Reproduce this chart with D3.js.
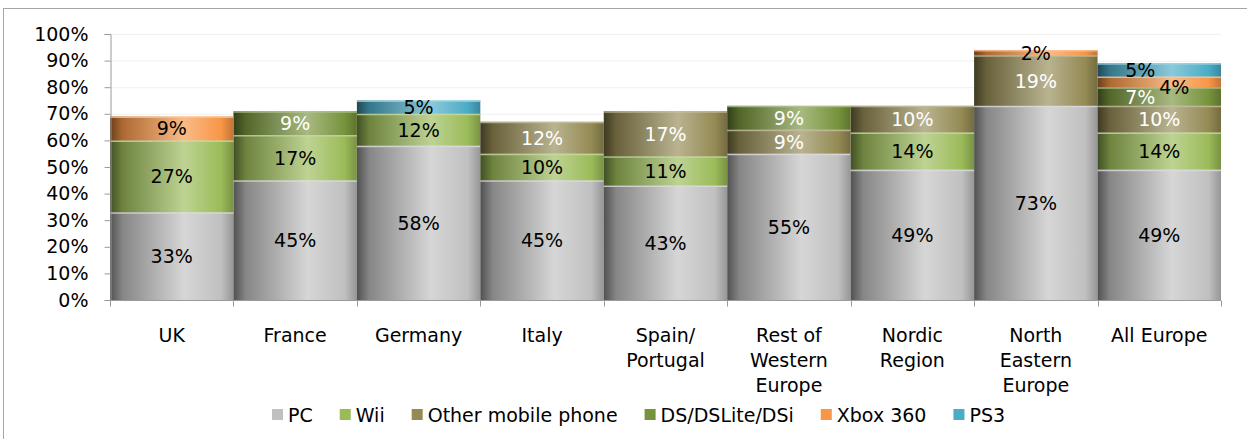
<!DOCTYPE html>
<html>
<head>
<meta charset="utf-8">
<script src="https://cdn.jsdelivr.net/npm/d3@7"></script>
<style>
  body { margin: 0; background: #fff; }
  svg text { font-family: "DejaVu Sans", Verdana, sans-serif; }
</style>
</head>
<body>
<script>
// categories (multi-line labels) and platform shares in percent
const categories = [
  ["UK"], ["France"], ["Germany"], ["Italy"], ["Spain/", "Portugal"],
  ["Rest of", "Western", "Europe"], ["Nordic", "Region"],
  ["North", "Eastern", "Europe"], ["All Europe"]
];
const pc          = [33, 45, 58, 45, 43, 55, 49, 73, 49];
const wii         = [27, 17, 12, 10, 11,  0, 14,  0, 14];
const otherMobile = [ 0,  0,  0, 12, 17,  9, 10, 19, 10];
const dsLite      = [ 0,  9,  0,  0,  0,  9,  0,  0,  7];
const xbox360     = [ 9,  0,  0,  0,  0,  0,  0,  2,  4];
const ps3         = [ 0,  0,  5,  0,  0,  0,  0,  0,  5];
const yTicks = [0, 10, 20, 30, 40, 50, 60, 70, 80, 90, 100];

const series = [
  {name: "PC", values: pc, color: "#c0c0c0", text: "#000"},
  {name: "Wii", values: wii, color: "#9bbb59", text: "#000"},
  {name: "Other mobile phone", values: otherMobile, color: "#948a54", text: "#fff"},
  {name: "DS/DSLite/DSi", values: dsLite, color: "#77933c", text: "#fff"},
  {name: "Xbox 360", values: xbox360, color: "#f79646", text: "#000"},
  {name: "PS3", values: ps3, color: "#4bacc6", text: "#000"}
];

// crowded labels in the last column get pushed aside, like the original
const labelNudge = {"All Europe|PS3": [-19, 0], "All Europe|Xbox 360": [15, 5], "All Europe|DS/DSLite/DSi": [-19, 0]};

const W = 1247, H = 439;
const margin = {top: 34, left: 110, right: 26, bottom: 139};
const fontSize = "19px";

const svg = d3.select("body").append("svg")
  .attr("width", W).attr("height", H);

// chart frame (runs off the right / bottom like the crop)
svg.append("rect")
  .attr("x", 3.5).attr("y", 8.5).attr("width", W + 10).attr("height", H + 10)
  .attr("fill", "none").attr("stroke", "#a6a6a6");

const x = d3.scaleBand()
  .domain(categories.map((c) => c.join(" ")))
  .range([margin.left, W - margin.right])
  .paddingInner(0).paddingOuter(0);

const y = d3.scaleLinear().domain([0, 100]).range([H - margin.bottom, margin.top]);

// gradients - cylinder look
const defs = svg.append("defs");
const mix = (a, b, t) => d3.interpolateRgb(a, b)(t);
series.forEach((s, i) => {
  const grad = defs.append("linearGradient")
    .attr("id", "grad" + i).attr("x1", 0).attr("x2", 1).attr("y1", 0).attr("y2", 0);
  const stops = [
    [0, mix(s.color, "#000", 0.58)],
    [0.1, mix(s.color, "#000", 0.3)],
    [0.6, mix(s.color, "#fff", 0.35)],
    [0.9, s.color],
    [1, mix(s.color, "#000", 0.22)]
  ];
  grad.selectAll("stop").data(stops).join("stop")
    .attr("offset", (d) => d[0]).attr("stop-color", (d) => d[1]);
});

// gridlines
svg.append("g").selectAll("line").data(yTicks.slice(1)).join("line")
  .attr("x1", margin.left).attr("x2", W - margin.right)
  .attr("y1", (d) => y(d) + 0.5).attr("y2", (d) => y(d) + 0.5)
  .attr("stroke", "#f0f0f0");

// stack
const rows = categories.map((c, i) => {
  const r = {cat: c.join(" ")};
  series.forEach((s) => { r[s.name] = s.values[i]; });
  return r;
});
const stacked = d3.stack().keys(series.map((s) => s.name))(rows);

const layers = svg.append("g").selectAll("g").data(stacked).join("g");

layers.selectAll("rect")
  .data((d) => d.filter((p) => p[1] > p[0]))
  .join("rect")
  .attr("x", (d) => x(d.data.cat))
  .attr("width", x.bandwidth())
  .attr("y", (d) => y(d[1]))
  .attr("height", (d) => y(d[0]) - y(d[1]))
  .attr("fill", function () { return "url(#grad" + d3.select(this.parentNode).datum().index + ")"; });

// light rim on top of each segment
layers.selectAll("line")
  .data((d) => d.filter((p) => p[1] > p[0]))
  .join("line")
  .attr("x1", (d) => x(d.data.cat)).attr("x2", (d) => x(d.data.cat) + x.bandwidth())
  .attr("y1", (d) => y(d[1]) + 0.75).attr("y2", (d) => y(d[1]) + 0.75)
  .attr("stroke", function () { return mix(series[d3.select(this.parentNode).datum().index].color, "#fff", 0.45); })
  .attr("stroke-width", 1.5).attr("opacity", 0.8);

// value labels
layers.each(function (layer) {
  const s = series[layer.index];
  d3.select(this).selectAll("text")
    .data(layer.filter((p) => p[1] > p[0]))
    .join("text")
    .attr("x", (d) => x(d.data.cat) + x.bandwidth() / 2 + (labelNudge[d.data.cat + "|" + s.name] || [0, 0])[0])
    .attr("y", (d) => (y(d[0]) + y(d[1])) / 2 + (labelNudge[d.data.cat + "|" + s.name] || [0, 0])[1])
    .attr("text-anchor", "middle")
    .attr("dominant-baseline", "central")
    .attr("font-size", fontSize)
    .attr("fill", s.text)
    .text((d) => (d[1] - d[0]) + "%");
});

// y axis
const yAxis = svg.append("g")
  .attr("transform", `translate(${margin.left + 0.5},0)`)
  .call(d3.axisLeft(y).tickValues(yTicks).tickFormat((d) => d + "%").tickSize(6).tickPadding(16));
yAxis.selectAll("text").attr("font-size", fontSize).attr("fill", "#000")
  .attr("font-family", "DejaVu Sans, Verdana, sans-serif");
yAxis.selectAll("line, path").attr("stroke", "#9a9a9a");

// x axis line + ticks at the category boundaries
const base = y(0) + 0.5;
svg.append("line")
  .attr("x1", margin.left).attr("x2", W - margin.right)
  .attr("y1", base).attr("y2", base).attr("stroke", "#9a9a9a");
svg.append("g").selectAll("line")
  .data(x.domain().concat(["end"]))
  .join("line")
  .attr("x1", (d) => Math.round(d === "end" ? x.range()[1] : x(d)) + 0.5)
  .attr("x2", (d) => Math.round(d === "end" ? x.range()[1] : x(d)) + 0.5)
  .attr("y1", base).attr("y2", base + 6).attr("stroke", "#9a9a9a");

// category labels
const catLabels = svg.append("g").selectAll("text").data(categories).join("text")
  .attr("x", (d) => x(d.join(" ")) + x.bandwidth() / 2)
  .attr("y", 342)
  .attr("text-anchor", "middle")
  .attr("font-size", fontSize)
  .attr("fill", "#000");
catLabels.selectAll("tspan").data((d) => d).join("tspan")
  .attr("x", function () { return d3.select(this.parentNode).attr("x"); })
  .attr("dy", (d, i) => i === 0 ? 0 : 25)
  .text((d) => d);

// legend
const legend = svg.append("g").attr("transform", "translate(272,415)");
let lx = 0;
series.forEach((s) => {
  const item = legend.append("g").attr("transform", `translate(${lx},0)`);
  item.append("rect").attr("x", 0).attr("y", -6).attr("width", 11).attr("height", 11).attr("fill", s.color);
  const t = item.append("text").attr("x", 16).attr("y", 0)
    .attr("dominant-baseline", "central")
    .attr("font-size", fontSize).attr("fill", "#000").text(s.name);
  lx += 16 + t.node().getComputedTextLength() + 27;
});
</script>
</body>
</html>
